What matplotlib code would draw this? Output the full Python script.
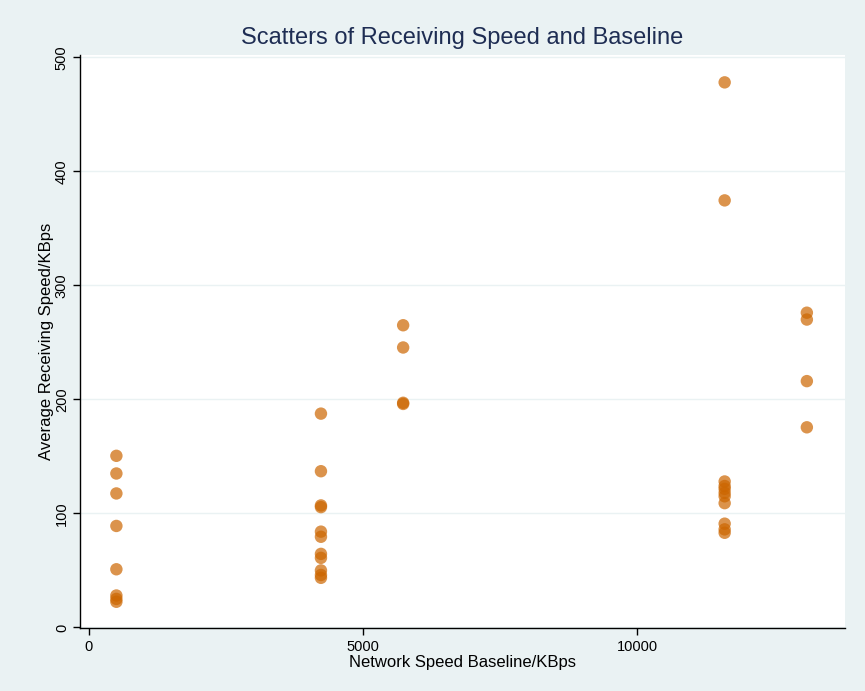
import numpy as np
import matplotlib.pyplot as plt

plt.rcParams['font.family'] = ['Liberation Sans Narrow', 'Liberation Sans', 'DejaVu Sans']

# baseline (KBps) and the average receiving speeds measured at it
baseline = [500] * 8 + [4233] * 11 + [5733] * 4 + [11600] * 11 + [13100] * 4
receiving = [150.5, 135, 117.5, 89, 51, 28, 25, 22.5,
             187.5, 137, 107, 105.5, 84, 79.5, 64.5, 61, 50, 46, 43.5,
             265, 245.5, 197, 196,
             478, 374.5, 128, 124, 121.5, 118, 115, 109, 91, 86, 83,
             276, 270, 216, 175.5]

bg = '#EAF2F3'
fig = plt.figure(figsize=(8.65, 6.91), dpi=100, facecolor=bg)
ax = fig.add_axes([80 / 865, 63 / 691, 765 / 865, 573 / 691])
ax.set_facecolor('white')

ax.scatter(baseline, receiving, s=80, color='#CC6600', alpha=0.7,
           edgecolors='none', zorder=3)

ax.set_xlim(-164, 13796)
ax.set_ylim(-0.5, 502)
ax.set_xticks([0, 5000, 10000])
ax.set_yticks([0, 100, 200, 300, 400, 500])
ax.grid(axis='y', color=bg, linewidth=1.0, zorder=0)

for side in ['top', 'right']:
    ax.spines[side].set_visible(False)
for side in ['left', 'bottom']:
    ax.spines[side].set_color('black')
    ax.spines[side].set_linewidth(1)

ax.tick_params(axis='both', direction='out', length=5, width=1,
               labelsize=10.5, colors='black')
ax.tick_params(axis='y', pad=3)
plt.setp(ax.get_yticklabels(), rotation=90, va='center')

ax.set_xlabel('Network Speed Baseline/KBps', fontsize=12, labelpad=1)
ax.set_ylabel('Average Receiving Speed/KBps', fontsize=12)
ax.yaxis.set_label_coords(-0.034, 0.5)
ax.set_title('Scatters of Receiving Speed and Baseline', fontsize=17,
             color='#1E2D53', pad=8)

fig.savefig('out.png', dpi=100, facecolor=bg)
